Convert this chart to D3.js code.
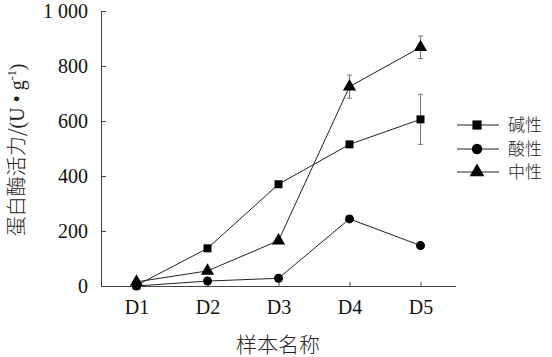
<!DOCTYPE html>
<html><head><meta charset="utf-8">
<script src="https://cdn.jsdelivr.net/npm/d3@7"></script>
<style>body{margin:0;background:#fff}svg{display:block}</style>
</head><body>
<script>
const categories = ["D1","D2","D3","D4","D5"];
const seriesNames = ["碱性","酸性","中性"];
const alkaline = [2, 137, 370, 515, 606];
const acidic = [0, 18, 28, 244, 147];
const neutral = [15, 55, 165, 725, 868];
const alkalineErr = [0, 0, 0, 0, 91];
const acidicErr = [0, 0, 0, 0, 0];
const neutralErr = [0, 0, 0, 42, 41];
const yTicks = [0, 200, 400, 600, 800, 1000];
const yTickLabels = ["0","200","400","600","800","1 000"];
const xTitle = "样本名称";

const W = 552, H = 357;
const svg = d3.select("body").append("svg").attr("width", W).attr("height", H);
const x = d3.scalePoint().domain(categories).range([101, 456]).padding(0.5);
const y = d3.scaleLinear().domain([0, 1000]).range([286, 11]);
const serif = "'Liberation Serif','Times New Roman',serif";
const cjk = "'Noto Sans CJK SC','Noto Sans CJK JP',sans-serif";

// axes
const yAxis = svg.append("g").attr("transform", "translate(101,0)")
  .call(d3.axisLeft(y).tickValues(yTicks).tickSize(-5).tickPadding(13).tickFormat((d,i)=>yTickLabels[i]));
const xAxis = svg.append("g").attr("transform", "translate(0,286)")
  .call(d3.axisBottom(x).tickSize(-4).tickPadding(14));
xAxis.select(".domain").attr("d", "M101,0.5H456");
yAxis.select(".domain").attr("d", "M0.5,0V-275").attr("transform","translate(0,286)");
[xAxis, yAxis].forEach(g => {
  g.selectAll(".domain, line").attr("stroke", "#444").attr("stroke-width", 1);
  g.selectAll("text").attr("font-family", serif).attr("font-size", 20).attr("fill", "#111");
});
xAxis.selectAll(".tick").filter(d => d === "D1").select("line").remove();

// titles
svg.append("text").attr("x", 278).attr("y", 352).attr("text-anchor", "middle")
  .attr("font-family", cjk).attr("font-size", 21).attr("font-weight", 300).attr("fill", "#222").text(xTitle);
const yt = svg.append("text").attr("transform", "translate(24,150) rotate(-90)").attr("text-anchor", "middle")
  .attr("font-size", 20).attr("fill", "#222");
yt.append("tspan").attr("font-family", cjk).attr("font-weight", 300).text("蛋白酶活力/");
yt.append("tspan").attr("font-family", serif).text("(U \u2022 g");
yt.append("tspan").attr("font-family", serif).attr("font-size", 12).attr("dy", -8).text("-1");
yt.append("tspan").attr("font-family", serif).attr("dy", 8).text(")");

const series = [
  {name: seriesNames[0], values: alkaline, err: alkalineErr, sym: d3.symbolSquare, size: 64},
  {name: seriesNames[1], values: acidic, err: acidicErr, sym: d3.symbolCircle, size: 64},
  {name: seriesNames[2], values: neutral, err: neutralErr, sym: d3.symbolTriangle, size: 75},
];
const line = d3.line().x((d,i)=>x(categories[i])).y(d=>y(d));
series.forEach(s => {
  const g = svg.append("g");
  s.err.forEach((e, i) => {
    if (!e) return;
    const cx = x(categories[i]);
    g.append("path").attr("d", `M${cx},${y(s.values[i]+e)}V${y(s.values[i]-e)}M${cx-2.5},${y(s.values[i]+e)}H${cx+2.5}M${cx-2.5},${y(s.values[i]-e)}H${cx+2.5}`)
      .attr("stroke", "#777").attr("stroke-width", 1).attr("fill", "none");
  });
  g.append("path").datum(s.values).attr("d", line).attr("fill", "none").attr("stroke", "#222").attr("stroke-width", 1);
  g.selectAll("path.m").data(s.values).join("path").attr("class","m")
    .attr("transform", (d,i)=>`translate(${x(categories[i])},${y(d)})`)
    .attr("d", d3.symbol(s.sym, s.size)).attr("fill", "#000");
});

// legend
const legY = [125, 149, 172];
series.forEach((s, i) => {
  const g = svg.append("g").attr("transform", `translate(0,${legY[i]})`);
  g.append("line").attr("x1", 457).attr("x2", 499).attr("y1", 0).attr("y2", 0).attr("stroke", "#222");
  g.append("path").attr("transform", "translate(477,0)").attr("d", d3.symbol(s.sym, s.size + 20)).attr("fill", "#000");
  g.append("text").attr("x", 508).attr("y", 6).attr("font-family", cjk).attr("font-weight", 300)
    .attr("font-size", 17).attr("fill", "#222").text(s.name);
});
</script>
</body></html>
